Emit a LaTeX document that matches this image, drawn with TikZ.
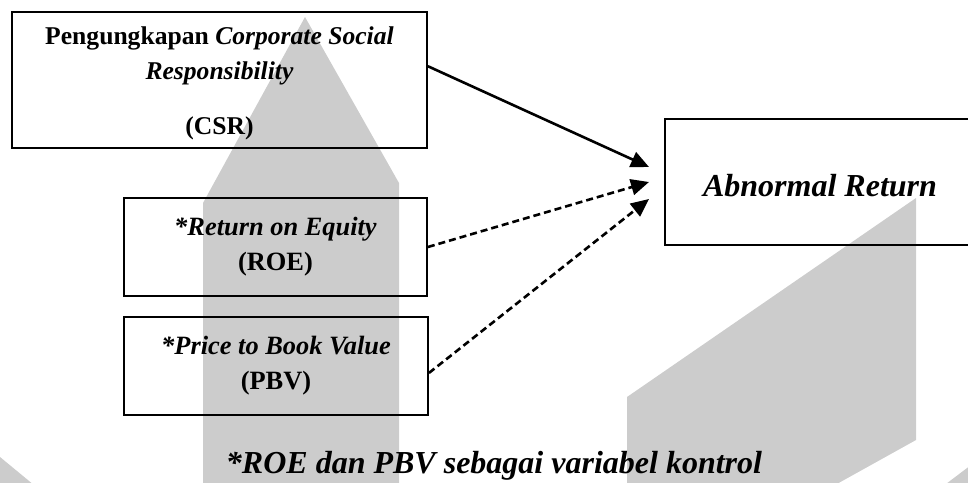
\documentclass[tikz,border=0pt]{standalone}
\usepackage{fontspec}
\setmainfont{Liberation Serif}
\usetikzlibrary{arrows.meta,calc}

\tikzset{
  varbox/.style={draw, line width=0.9pt, align=center, inner sep=0pt,
    font=\fontsize{13.2}{17.5}\selectfont\bfseries},
  watermark/.style={fill=black!20, draw=none},
  effect/.style={line width=1.3pt, -{Triangle[length=9pt,width=8pt]}},
  control/.style={effect, dash pattern=on 3.5pt off 2pt},
}

\begin{document}
\begin{tikzpicture}[x=0.5pt,y=-0.5pt]
    \useasboundingbox (0,0) rectangle (968,482);

    % logo in the background
    \fill[watermark] (305,17) -- (399,183) -- (399,490) -- (203,490) -- (203,203) -- cycle;
    \fill[watermark] (627,397) -- (916,198) -- (916,440) -- (826,490) -- (627,490) -- cycle;
    \fill[watermark] (0,457) -- (40,490) -- (0,490) -- cycle;
    \fill[watermark] (975,462) -- (975,490) -- (938,490) -- cycle;

    % variables
    \node[varbox, minimum width=207.5pt, minimum height=68pt,
          font=\fontsize{12.8}{17.5}\selectfont\bfseries] (csr) at (219.5,80)
          {\rule{0pt}{12pt}Pengungkapan \textit{Corporate Social}\\ \textit{Responsibility}\\[10pt] (CSR)};
    \node[varbox, minimum width=151.5pt, minimum height=49pt] (roe) at (275.5,247)
          {\textit{*Return on Equity}\\ (ROE)};
    \node[varbox, minimum width=152pt, minimum height=49pt] (pbv) at (276,366)
          {\textit{*Price to Book Value}\\ (PBV)};
    \node[varbox, minimum width=155pt, minimum height=63pt,
          font=\fontsize{16}{19}\selectfont\bfseries\itshape] (ar) at (820,182)
          {\rule{0pt}{15pt}Abnormal Return};

    \node[font=\fontsize{16}{19}\selectfont\bfseries\itshape, anchor=base] (note) at (494,473)
          {*ROE dan PBV sebagai variabel kontrol};

    % arrows
    \coordinate (tipcsr) at (649,167);
    \coordinate (tiproe) at (649,182);
    \coordinate (tippbv) at (649,199);
    \draw[effect] ($(csr.north east)!0.4!(csr.south east)$) -- (tipcsr);
    \draw[control] (roe.east) -- (tiproe);
    \draw[control] ($(pbv.north east)!0.57!(pbv.south east)$) -- (tippbv);
\end{tikzpicture}
\end{document}
